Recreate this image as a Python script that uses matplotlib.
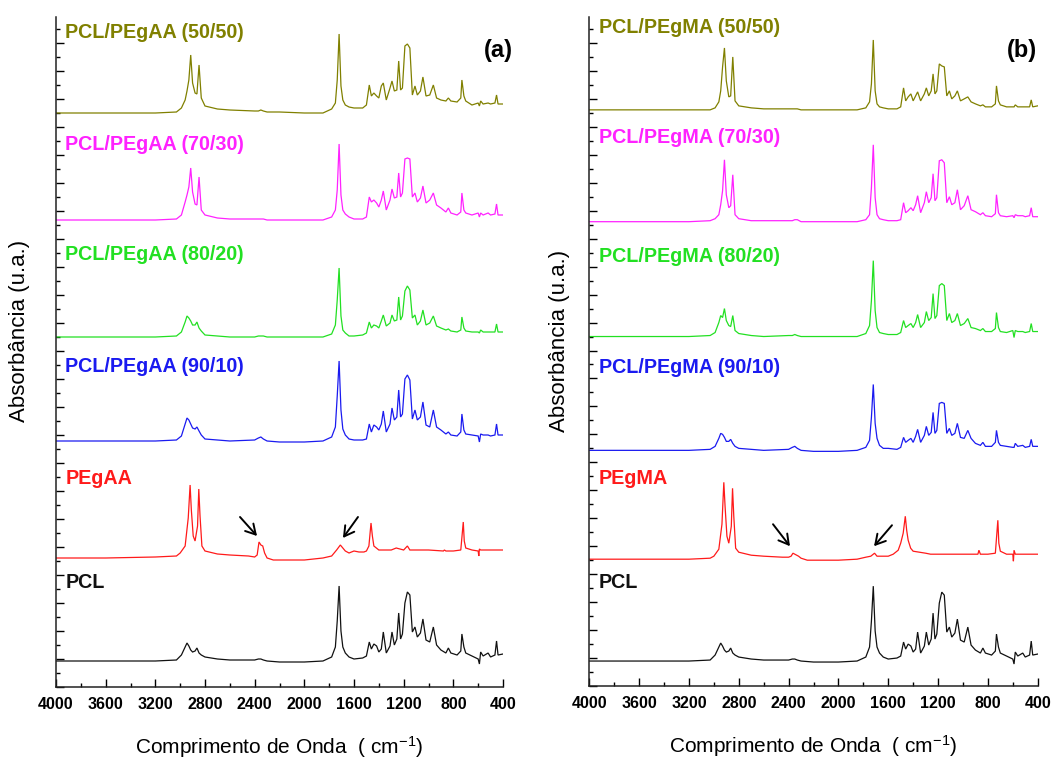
import numpy as np
import matplotlib
matplotlib.use("Agg")
import matplotlib.pyplot as plt
from matplotlib.ticker import MultipleLocator

plt.rcParams['font.family'] = ['Liberation Sans', 'DejaVu Sans']
plt.rcParams['mathtext.default'] = 'regular'

# ---------------- data (wavenumber grids, cm-1) ----------------
wn_pcl = [4000, 3600, 3200, 3030, 2990, 2960, 2945, 2930, 2915, 2900,
          2880, 2865, 2848, 2830, 2800, 2700, 2600, 2400, 2370, 2350,
          2330, 2300, 2200, 2000, 1850, 1780, 1750, 1735, 1720, 1705,
          1690, 1670, 1640, 1600, 1530, 1500, 1477, 1460, 1440, 1418,
          1400, 1380, 1364, 1340, 1310, 1294, 1275, 1255, 1240, 1225,
          1210, 1190, 1170, 1150, 1130, 1109, 1090, 1065, 1045, 1020,
          990, 961, 935, 900, 860, 840, 820, 770, 740, 731,
          715, 700, 650, 600, 590, 580, 560, 520, 500, 465,
          452, 440, 400]

wn_pe = [4000, 3600, 3200, 3030, 3000, 2960, 2935, 2920, 2910, 2895,
         2880, 2860, 2850, 2840, 2825, 2800, 2700, 2600, 2450, 2400,
         2380, 2365, 2350, 2335, 2320, 2300, 2250, 2000, 1850, 1780,
         1740, 1710, 1690, 1670, 1640, 1600, 1560, 1520, 1500, 1480,
         1463, 1452, 1440, 1420, 1400, 1300, 1260, 1200, 1170, 1150,
         1000, 880, 872, 860, 800, 740, 720, 712, 700, 650,
         600, 595, 590, 580, 500, 400]

# absorbance (arbitrary units) relative to each curve's own baseline
pcl = [0, 0, 0, 1, 6, 14, 18, 15, 11, 9,
       10, 13, 8, 6, 4, 2, 1, 1, 2, 2,
       1, 0, -1, -1, 0, 4, 14, 40, 75, 30,
       14, 8, 4, 2, 3, 5, 19, 12, 17, 15,
       9, 12, 29, 8, 15, 29, 16, 22, 48, 22,
       27, 58, 69, 66, 29, 34, 24, 28, 42, 21,
       19, 34, 16, 11, 8, 13, 8, 6, 10, 27,
       14, 8, 5, 2, -3, 9, 5, 8, 4, 6,
       20, 6, 7]

pegaa = [0, 0, 1, 2, 5, 12, 40, 73, 48, 22,
         17, 32, 69, 42, 12, 7, 4, 3, 2, 1,
         3, 16, 13, 12, 5, 0, -2, -2, 0, 2,
         8, 13, 10, 7, 5, 7, 6, 6, 7, 12,
         35, 22, 12, 10, 8, 8, 10, 8, 12, 8,
         8, 7, 8, 7, 7, 8, 36, 17, 10, 8,
         7, 2, 9, 8, 8, 8]

pegma = [0, 0, 0, 1, 3, 10, 35, 77, 53, 23,
         16, 33, 71, 43, 11, 7, 4, 3, 2, 2,
         3, 6, 5, 4, 3, 1, -1, -1, 0, 2,
         3, 6, 3, 3, 3, 3, 5, 9, 16, 26,
         43, 29, 19, 11, 8, 6, 5, 5, 5, 5,
         5, 5, 9, 5, 5, 6, 39, 16, 8, 5,
         5, -2, 9, 5, 5, 5]

aa_90_10 = [0, 0, 0, 1, 5, 17, 23, 21, 17, 13,
            12, 14, 10, 6, 2, 1, 0, 1, 3, 4,
            2, 0, -1, -1, 0, 4, 14, 45, 80, 31,
            12, 6, 2, 1, 1, 2, 17, 9, 16, 14,
            11, 17, 30, 9, 17, 33, 21, 24, 51, 24,
            27, 62, 66, 61, 22, 31, 21, 24, 39, 16,
            14, 31, 14, 11, 7, 9, 6, 5, 9, 27,
            11, 7, 6, 5, -1, 7, 6, 6, 5, 6,
            17, 6, 6]

aa_80_20 = [0, 0, 0, 1, 5, 15, 21, 19, 16, 12,
            12, 15, 9, 6, 2, 1, 0, 0, 1, 1,
            1, 0, 0, 0, 0, 3, 12, 37, 69, 21,
            7, 4, 1, 1, 2, 4, 15, 9, 12, 11,
            9, 16, 22, 11, 14, 22, 16, 17, 40, 17,
            21, 46, 51, 47, 19, 22, 12, 16, 27, 12,
            14, 21, 11, 9, 7, 8, 6, 5, 7, 20,
            9, 6, 5, 5, 4, 7, 5, 5, 5, 5,
            13, 5, 5]

aa_70_30 = [0, 0, 0, 1, 5, 18, 25, 33, 52, 28,
            16, 15, 43, 10, 5, 2, 1, 1, 1, 1,
            1, 0, 0, 0, 0, 3, 10, 30, 76, 25,
            10, 6, 3, 1, 1, 3, 23, 18, 20, 17,
            13, 20, 29, 10, 20, 31, 22, 23, 47, 23,
            27, 61, 62, 61, 23, 27, 18, 22, 34, 17,
            20, 27, 15, 12, 8, 12, 7, 5, 8, 27,
            10, 7, 5, 7, 3, 7, 5, 7, 5, 6,
            16, 5, 5]

aa_50_50 = [0, 0, 0, 1, 5, 13, 22, 33, 58, 30,
            20, 19, 48, 15, 7, 4, 3, 2, 2, 3,
            2, 1, 1, 0, 0, 4, 10, 33, 79, 27,
            13, 8, 6, 5, 5, 8, 28, 17, 20, 17,
            15, 27, 30, 13, 25, 32, 22, 23, 52, 23,
            25, 67, 69, 65, 18, 27, 18, 22, 36, 17,
            18, 28, 15, 13, 12, 15, 12, 11, 15, 33,
            17, 12, 8, 10, 7, 12, 9, 10, 9, 10,
            18, 9, 9]

ma_90_10 = [0, 0, 0, 1, 4, 12, 17, 16, 13, 9,
            9, 11, 7, 4, 2, 1, 0, 1, 3, 4,
            2, 0, -1, -1, 0, 3, 10, 33, 66, 27,
            12, 5, 2, 2, 1, 3, 13, 8, 10, 12,
            8, 14, 21, 8, 15, 24, 15, 18, 38, 17,
            20, 47, 48, 47, 17, 22, 15, 17, 27, 13,
            12, 20, 12, 7, 5, 8, 4, 4, 8, 20,
            8, 5, 4, 3, 3, 7, 4, 5, 3, 4,
            11, 4, 4]

ma_80_20 = [0, 0, 0, 1, 4, 14, 21, 19, 28, 16,
            11, 10, 21, 6, 3, 1, 0, 1, 1, 2,
            1, 0, 0, 0, 0, 3, 11, 36, 76, 26,
            9, 4, 3, 2, 2, 4, 16, 9, 11, 13,
            9, 14, 22, 9, 14, 25, 16, 19, 43, 18,
            21, 51, 53, 51, 16, 23, 14, 16, 23, 11,
            13, 18, 9, 8, 6, 8, 5, 5, 8, 24,
            9, 5, 4, 6, -1, 6, 5, 5, 4, 5,
            13, 5, 5]

ma_70_30 = [0, 0, 0, 1, 3, 7, 17, 31, 62, 27,
            14, 16, 47, 7, 3, 1, 1, 1, 1, 2,
            2, 0, 0, 0, 0, 2, 7, 34, 77, 24,
            7, 3, 2, 1, 1, 2, 19, 9, 11, 14,
            11, 17, 26, 9, 19, 30, 19, 24, 48, 21,
            24, 61, 62, 59, 19, 25, 17, 19, 32, 12,
            16, 26, 12, 10, 7, 9, 6, 5, 8, 27,
            9, 6, 5, 6, 4, 7, 6, 6, 5, 6,
            14, 5, 5]

ma_50_50 = [0, 0, 0, 0, 2, 8, 19, 43, 62, 29,
            13, 14, 53, 9, 4, 2, 1, 1, 1, 1,
            1, 0, 0, 0, 0, 2, 8, 26, 70, 19,
            6, 3, 2, 1, 1, 3, 22, 9, 13, 16,
            9, 14, 18, 9, 16, 22, 14, 19, 36, 16,
            19, 46, 44, 43, 14, 19, 11, 14, 19, 9,
            11, 13, 8, 6, 4, 5, 3, 3, 6, 24,
            9, 5, 3, 3, 3, 5, 3, 3, 3, 3,
            10, 3, 4]

labels_a = ["PCL", "PEgAA", "PCL/PEgAA (90/10)", "PCL/PEgAA (80/20)",
            "PCL/PEgAA (70/30)", "PCL/PEgAA (50/50)"]
labels_b = ["PCL", "PEgMA", "PCL/PEgMA (90/10)", "PCL/PEgMA (80/20)",
            "PCL/PEgMA (70/30)", "PCL/PEgMA (50/50)"]
series_a = [pcl, pegaa, aa_90_10, aa_80_20, aa_70_30, aa_50_50]
series_b = [pcl, pegma, ma_90_10, ma_80_20, ma_70_30, ma_50_50]
xticks = [4000, 3600, 3200, 2800, 2400, 2000, 1600, 1200, 800, 400]

# ---------------- layout / style ----------------
colors = ['#111111', '#FF1A1A', '#1A1AF0', '#22E022', '#FF22FF', '#808000']
offsets_a = [26, 129, 246, 350, 467, 574]
offsets_b = [25, 127, 236, 350, 465, 577]
label_y_a = [105, 209, 320, 432, 543, 655]
label_y_b = [104, 208, 319, 430, 549, 659]

assert all(len(s) == len(wn_pcl) for s in [pcl, aa_90_10, aa_80_20, aa_70_30, aa_50_50,
                                            ma_90_10, ma_80_20, ma_70_30, ma_50_50])
assert len(pegaa) == len(wn_pe) and len(pegma) == len(wn_pe)

W, H = 1057, 758
fig = plt.figure(figsize=(W / 100, H / 100), dpi=100)
axA = fig.add_axes([56 / W, 1 - 687 / H, 447 / W, 670 / H])
axB = fig.add_axes([589.3 / W, 1 - 686 / H, 448.4 / W, 669 / H])


def draw(ax, series, labels, offsets, label_y, tag, tag_xy, arrows):
    for i, (vals, lab) in enumerate(zip(series, labels)):
        grid = wn_pe if len(vals) == len(wn_pe) else wn_pcl
        y = np.asarray(vals, dtype=float) + offsets[i]
        ax.plot(grid, y, color=colors[i], lw=0.9, solid_joinstyle='miter')
        ax.text(3925, label_y[i], lab, color=colors[i], fontsize=14.2,
                fontweight='bold', ha='left', va='center')
    ax.set_xlim(4000, 400)
    ax.set_ylim(0, 670)
    ax.set_xticks(xticks)
    ax.set_xticklabels([str(t) for t in xticks], fontsize=11.5, fontweight='bold')
    ax.xaxis.set_minor_locator(MultipleLocator(200))
    ax.yaxis.set_major_locator(MultipleLocator(28))
    ax.yaxis.set_minor_locator(MultipleLocator(14))
    ax.set_yticklabels([])
    ax.tick_params(axis='x', which='major', direction='in', length=6, width=1, pad=7)
    ax.tick_params(axis='x', which='minor', direction='in', length=3, width=1)
    ax.tick_params(axis='y', which='major', direction='in', length=6, width=1)
    ax.tick_params(axis='y', which='minor', direction='in', length=3, width=1)
    for sp in ['top', 'right']:
        ax.spines[sp].set_visible(False)
    for sp in ['left', 'bottom']:
        ax.spines[sp].set_linewidth(1.1)
        ax.spines[sp].set_color('#222222')
    ax.text(tag_xy[0], tag_xy[1], tag, fontsize=17, fontweight='bold',
            ha='center', va='center')
    for (tail, head) in arrows:
        ax.annotate('', xy=head, xytext=tail,
                    arrowprops=dict(arrowstyle='->,head_length=0.7,head_width=0.4',
                                    color='black', lw=1.4, shrinkA=0, shrinkB=0))
    ax.set_xlabel('Comprimento de Onda  ( cm$^{-1}$)', fontsize=15, labelpad=16)


draw(axA, series_a, labels_a, offsets_a, label_y_a, '(a)', (440, 637),
     [((2518, 170), (2381, 151)), ((1568, 170), (1689, 149))])
draw(axB, series_b, labels_b, offsets_b, label_y_b, '(b)', (526, 636),
     [((2525, 162), (2389, 140)), ((1570, 161), (1714, 140))])

fig.text(20 / W, 1 - 331 / H, 'Absorbância (u.a.)', rotation=90, fontsize=16,
         ha='center', va='center')
fig.text(560 / W, 1 - 341 / H, 'Absorbância (u.a.)', rotation=90, fontsize=16,
         ha='center', va='center')

fig.savefig('out.png', dpi=100)
